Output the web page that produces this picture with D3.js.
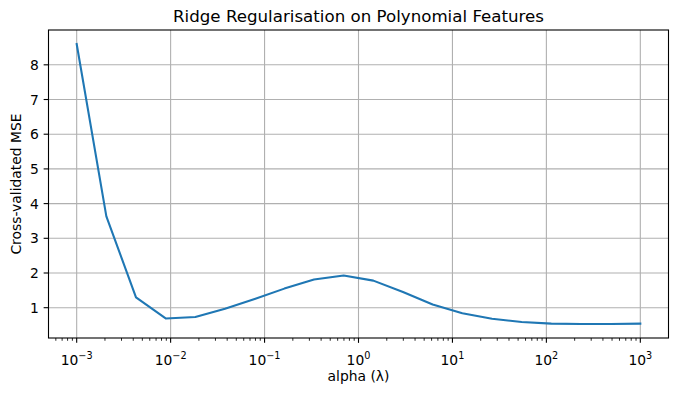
<!DOCTYPE html>
<html>
<head>
<meta charset="utf-8">
<script src="https://cdn.jsdelivr.net/npm/d3@7"></script>
<style>
  body { margin: 0; background: #fff; }
  text { font-family: "DejaVu Sans", sans-serif; fill: #000; }
</style>
</head>
<body>
<div id="chart"></div>
<script>
// data
const alphas = [0.001, 0.00207, 0.00428, 0.00886, 0.01833, 0.03793, 0.07848, 0.16238, 0.33598, 0.69519,
                1.43845, 2.97635, 6.15848, 12.74275, 26.36651, 54.55595, 112.88379, 233.57215, 483.29302, 1000];
const mse = [8.60, 3.63, 1.30, 0.69, 0.73, 0.97, 1.25, 1.55, 1.81, 1.93,
             1.78, 1.45, 1.09, 0.84, 0.68, 0.59, 0.54, 0.53, 0.53, 0.54];
const xTickExps = [-3, -2, -1, 0, 1, 2, 3];
const yTicks = [1, 2, 3, 4, 5, 6, 7, 8];

const width = 678, height = 396;
const margin = { top: 30, right: 9.5, bottom: 58, left: 48.5 };

const svg = d3.select("#chart").append("svg")
    .attr("width", width)
    .attr("height", height);

svg.append("rect").attr("width", width).attr("height", height).attr("fill", "#fff");

// matplotlib style 5% padding
const lx = d3.extent(alphas).map(Math.log10);
const padX = (lx[1] - lx[0]) * 0.05;
const ye = d3.extent(mse);
const padY = (ye[1] - ye[0]) * 0.05;

const x = d3.scaleLog()
    .domain([Math.pow(10, lx[0] - padX), Math.pow(10, lx[1] + padX)])
    .range([margin.left, width - margin.right]);
const y = d3.scaleLinear()
    .domain([ye[0] - padY, ye[1] + padY])
    .range([height - margin.bottom, margin.top]);

const x0 = margin.left, x1 = width - margin.right;
const y0 = height - margin.bottom, y1 = margin.top;

// grid
const grid = svg.append("g").attr("stroke", "#b0b0b0").attr("stroke-width", 1.1);
xTickExps.forEach(e => {
    const px = x(Math.pow(10, e));
    grid.append("line").attr("x1", px).attr("x2", px).attr("y1", y0).attr("y2", y1);
});
yTicks.forEach(v => {
    grid.append("line").attr("x1", x0).attr("x2", x1).attr("y1", y(v)).attr("y2", y(v));
});

// line
const line = d3.line()
    .x((d, i) => x(alphas[i]))
    .y(d => y(d));
svg.append("path")
    .datum(mse)
    .attr("d", line)
    .attr("fill", "none")
    .attr("stroke", "#1f77b4")
    .attr("stroke-width", 2.08)
    .attr("stroke-linejoin", "round")
    .attr("stroke-linecap", "square");

// frame
svg.append("rect")
    .attr("x", x0).attr("y", y1)
    .attr("width", x1 - x0).attr("height", y0 - y1)
    .attr("fill", "none").attr("stroke", "#000").attr("stroke-width", 1.1);

// x ticks (major + minor log ticks)
const ticks = svg.append("g").attr("stroke", "#000").attr("stroke-width", 1.1);
const [dMin, dMax] = x.domain();
for (let e = -4; e <= 3; e++) {
    for (let m = 1; m <= 9; m++) {
        const v = m * Math.pow(10, e);
        if (v < dMin || v > dMax) continue;
        const len = m === 1 ? 4.86 : 2.78;
        ticks.append("line")
            .attr("x1", x(v)).attr("x2", x(v))
            .attr("y1", y0).attr("y2", y0 + len)
            .attr("stroke-width", m === 1 ? 1.1 : 0.84);
    }
}
xTickExps.forEach(e => {
    const t = svg.append("text")
        .attr("x", x(Math.pow(10, e)))
        .attr("y", 365)
        .attr("text-anchor", "middle")
        .attr("font-size", 13.89);
    t.append("tspan").text("10");
    t.append("tspan")
        .attr("dy", -6.5)
        .attr("font-size", 9.7)
        .text(String(e).replace("-", "\u2212"));
});

// y ticks
yTicks.forEach(v => {
    ticks.append("line")
        .attr("x1", x0 - 4.86).attr("x2", x0)
        .attr("y1", y(v)).attr("y2", y(v));
    svg.append("text")
        .attr("x", x0 - 9.7)
        .attr("y", y(v))
        .attr("dy", "0.36em")
        .attr("text-anchor", "end")
        .attr("font-size", 13.89)
        .text(v);
});

// labels
svg.append("text")
    .attr("x", (x0 + x1) / 2)
    .attr("y", 22)
    .attr("text-anchor", "middle")
    .attr("font-size", 16.67)
    .text("Ridge Regularisation on Polynomial Features");

svg.append("text")
    .attr("x", (x0 + x1) / 2)
    .attr("y", 381)
    .attr("text-anchor", "middle")
    .attr("font-size", 13.89)
    .text("alpha (\u03bb)");

svg.append("text")
    .attr("transform", `translate(21,${(y0 + y1) / 2}) rotate(-90)`)
    .attr("text-anchor", "middle")
    .attr("font-size", 13.89)
    .text("Cross-validated MSE");
</script>
</body>
</html>
